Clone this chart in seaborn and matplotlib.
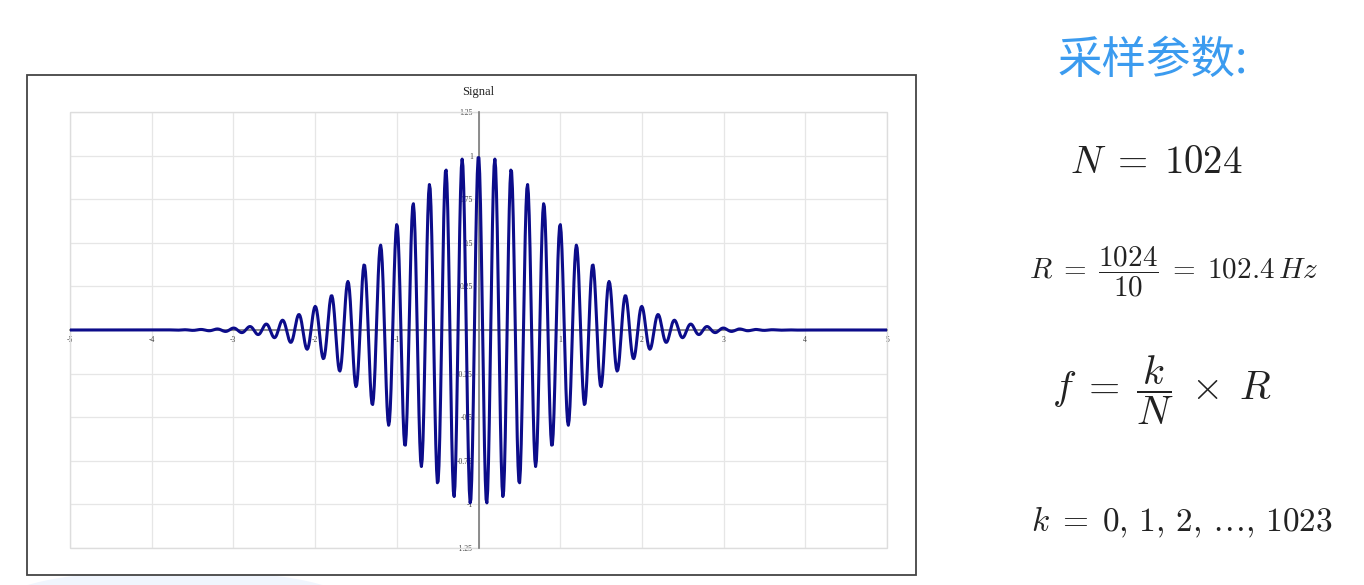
import numpy as np
import pandas as pd
import matplotlib
matplotlib.use("Agg")
import matplotlib.pyplot as plt
import seaborn as sns
from matplotlib.patches import Rectangle, Ellipse

# ---- data (parameters) ----
n_samples = 1024            # N = 1024
t_start, t_end = -5.0, 5.0  # 10 s window
carrier_freq = 5.0          # peaks every 0.2 s
envelope_sigma = 1.0        # ~0.61 at |t|=1, ~0.14 at |t|=2
x_ticks = [-5, -4, -3, -2, -1, 0, 1, 2, 3, 4, 5]
y_ticks = [-1.25, -1.0, -0.75, -0.5, -0.25, 0, 0.25, 0.5, 0.75, 1.0, 1.25]
y_tick_labels = ["-1.25", "-1", "-0.75", "-0.5", "-0.25", "", "0.25", "0.5", "0.75", "1", "1.25"]
x_tick_labels = ["-5", "-4", "-3", "-2", "-1", "", "1", "2", "3", "4", "5"]

t = np.linspace(t_start, t_end, n_samples)
signal = np.exp(-t**2 / (2 * envelope_sigma**2)) * np.cos(2 * np.pi * carrier_freq * t)
df = pd.DataFrame({"t": t, "signal": signal})

sns.set_style("white")
plt.rcParams['font.family'] = ['DejaVu Sans']
plt.rcParams['mathtext.fontset'] = 'cm'

W, H = 1364, 585
fig = plt.figure(figsize=(W / 100, H / 100), dpi=100)
fig.patch.set_facecolor("white")

# faint decorative shape at bottom left
fig.patches.append(Ellipse((175 / W, 1 - 600 / H), 340 / W, 60 / H,
                           transform=fig.transFigure, facecolor="#f0f5fd",
                           edgecolor="none", zorder=0))

# outer chart frame
fig.patches.append(Rectangle((27 / W, 1 - 575 / H), (916 - 27) / W, (575 - 75) / H,
                             transform=fig.transFigure, facecolor="white",
                             edgecolor="#444444", linewidth=1.3, zorder=1))

ax = fig.add_axes([70 / W, 1 - 548 / H, (887 - 70) / W, (548 - 112) / H])
ax.set_zorder(2)
sns.lineplot(data=df, x="t", y="signal", ax=ax, color="#0c0c8a", linewidth=2.2, zorder=3)

ax.set_xlim(t_start, t_end)
ax.set_ylim(-1.25, 1.25)
ax.set_xlabel("")
ax.set_ylabel("")

# grid
for xv in x_ticks:
    ax.axvline(xv, color="#e6e6e6", linewidth=0.9, zorder=0)
for yv in y_ticks:
    ax.axhline(yv, color="#e6e6e6", linewidth=0.9, zorder=0)

# spines through the origin
for s in ["top", "right"]:
    ax.spines[s].set_visible(False)
ax.spines["left"].set_position("zero")
ax.spines["bottom"].set_position("zero")
ax.spines["left"].set_color("#7a7a7a")
ax.spines["bottom"].set_color("#7a7a7a")
ax.spines["left"].set_linewidth(1.2)
ax.spines["bottom"].set_linewidth(1.2)
ax.spines["left"].set_zorder(2)
ax.spines["bottom"].set_zorder(2)

# light border of the plot area
ax.add_patch(Rectangle((0, 0), 1, 1, transform=ax.transAxes, fill=False,
                       edgecolor="#dddddd", linewidth=1.0, zorder=1, clip_on=False))

ax.set_xticks(x_ticks)
ax.set_xticklabels(x_tick_labels)
ax.set_yticks(y_ticks)
ax.set_yticklabels(y_tick_labels)
ax.tick_params(axis="both", direction="inout", length=6, width=0.9, color="#555555",
               labelsize=5.5, labelcolor="#444444", pad=1)
for lab in ax.get_xticklabels() + ax.get_yticklabels():
    lab.set_family(["Liberation Serif", "DejaVu Serif"])

ax.set_title("Signal", fontsize=9, family=["Liberation Serif", "DejaVu Serif"],
             color="#222222", pad=12)

# right-hand text
fig.text(1153 / W, 1 - 60 / H, "采样参数:", fontsize=32, color="#3b9bef",
         family=["Noto Sans CJK SC", "DejaVu Sans"], ha="center", va="center")
fig.text(1156 / W, 1 - 162 / H, r"$N\;=\;1024$", fontsize=28, color="#222222",
         ha="center", va="center")
fig.text(1173 / W, 1 - 272 / H, r"$R\;=\;\dfrac{1024}{10}\;=\;102.4\,Hz$", fontsize=21,
         color="#222222", ha="center", va="center")
fig.text(1162 / W, 1 - 390 / H, r"$f\;=\;\dfrac{k}{N}\;\times\;R$", fontsize=29,
         color="#222222", ha="center", va="center")
fig.text(1182 / W, 1 - 522 / H, r"$k\;=\;0,\,1,\,2,\,\ldots,\,1023$", fontsize=24,
         color="#222222", ha="center", va="center")

fig.savefig("out.png", dpi=100, facecolor="white")
